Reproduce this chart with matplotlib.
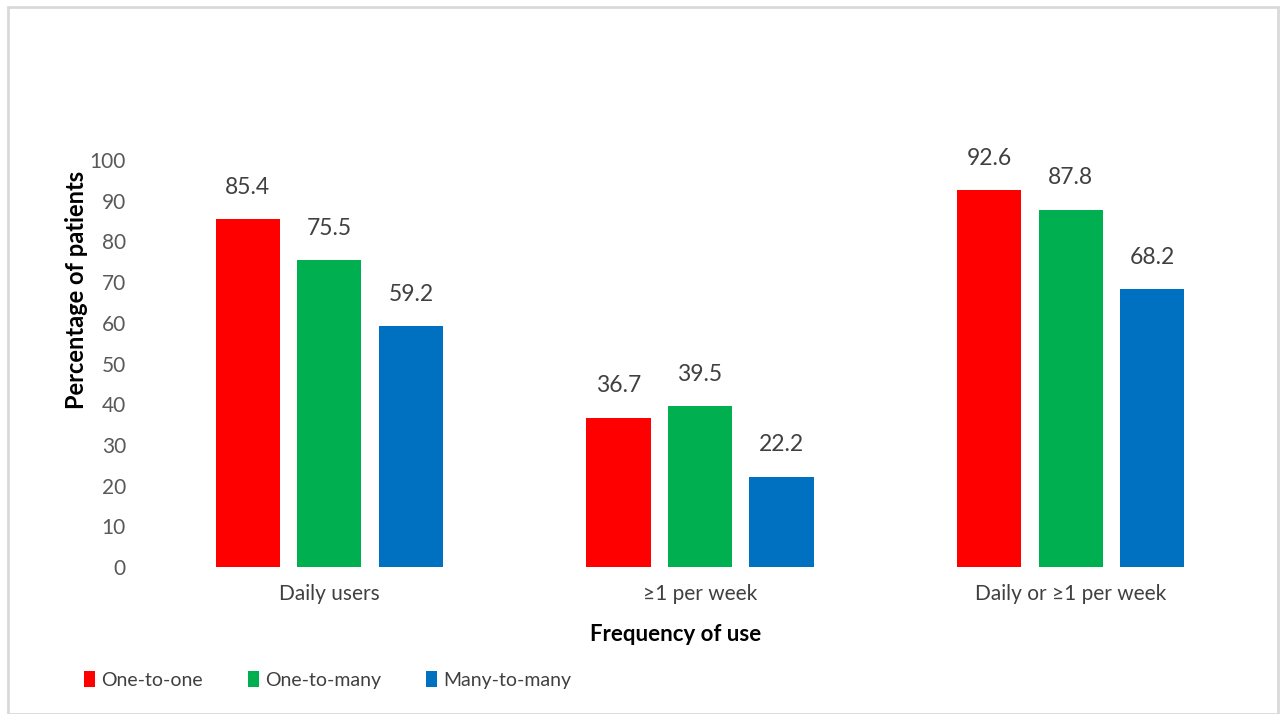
import matplotlib.pyplot as plt
import numpy as np

plt.rcParams['font.family'] = ['Lato', 'DejaVu Sans']

categories = ['Daily users', '\u22651 per week', 'Daily or \u22651 per week']
series = ['One-to-one', 'One-to-many', 'Many-to-many']
values = [
    [85.4, 36.7, 92.6],
    [75.5, 39.5, 87.8],
    [59.2, 22.2, 68.2],
]
colors = ['#FF0000', '#00B050', '#0070C0']

fig = plt.figure(figsize=(12.81, 7.14), dpi=100)
ax = fig.add_axes([144 / 1281, 1 - 567 / 714, 1112 / 1281, 407 / 714])

x = np.arange(len(categories))
width = 0.173
step = 0.22

for i, (name, vals, c) in enumerate(zip(series, values, colors)):
    pos = x + (i - 1) * step
    bars = ax.bar(pos, vals, width, color=c, label=name)
    for b, v in zip(bars, vals):
        ax.text(b.get_x() + b.get_width() / 2, v + 5.2, f'{v:.1f}',
                ha='center', va='bottom', fontsize=16.5, color='#404040')

ax.set_xlim(-0.5, 2.5)
ax.set_ylim(0, 100)
ax.set_yticks(range(0, 101, 10))
ax.set_xticks(x)
ax.set_xticklabels(categories)
ax.tick_params(axis='both', length=0, labelsize=15, colors='#595959')
ax.tick_params(axis='x', labelcolor='#404040', pad=12)
ax.tick_params(axis='y', pad=13)
for s in ax.spines.values():
    s.set_visible(False)

ax.set_xlabel('Frequency of use', fontsize=16, fontweight='bold')
ax.xaxis.set_label_coords(0.478, -0.140)
ax.set_ylabel('Percentage of patients', fontsize=17, fontweight='bold')
ax.yaxis.set_label_coords(-0.050, 0.68)

ax.legend(loc='upper left', bbox_to_anchor=(-0.070, -0.213), ncol=3, frameon=False,
          fontsize=14, handlelength=0.6, handleheight=0.85, handletextpad=0.3,
          columnspacing=2.3, labelcolor='#404040')

# light frame around the whole figure
fig.patches.append(plt.Rectangle((8 / 1281, 0.0), 1270 / 1281, 1 - 7 / 714,
                                 transform=fig.transFigure, fill=False,
                                 edgecolor='#d9d9d9', linewidth=2))

fig.savefig('out.png', dpi=100)
